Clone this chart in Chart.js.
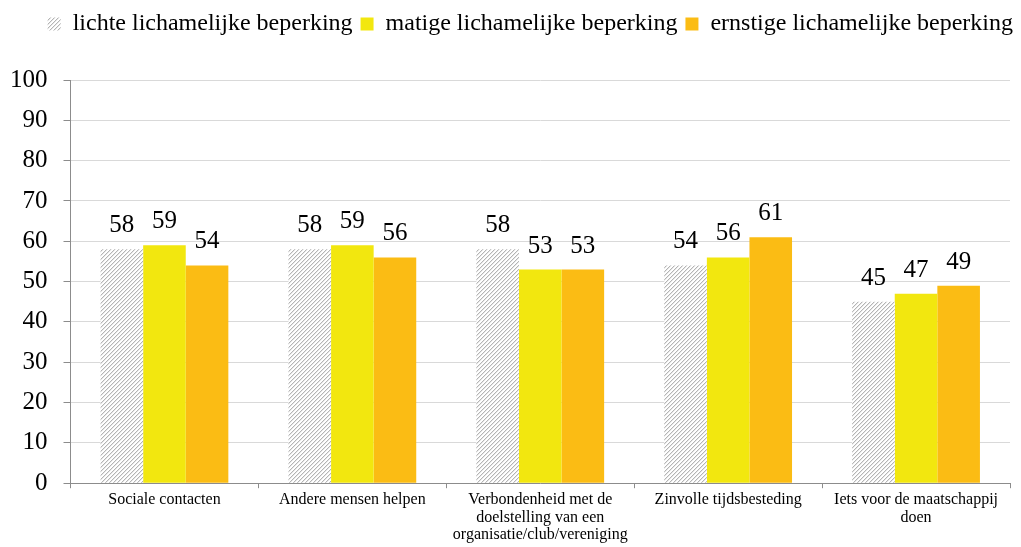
<!DOCTYPE html>
<html>
<head>
<meta charset="utf-8">
<script src="https://cdn.jsdelivr.net/npm/chart.js@4"></script>
<style>
  html, body { margin: 0; padding: 0; background: #fff; }
  #wrap { width: 1021px; height: 547px; }
</style>
</head>
<body>
<div id="wrap"><canvas id="chart" width="1021" height="547"></canvas></div>
<script>
// categories and values
const categories = [
    'Sociale contacten',
    'Andere mensen helpen',
    ['Verbondenheid met de', 'doelstelling van een', 'organisatie/club/vereniging'],
    'Zinvolle tijdsbesteding',
    ['Iets voor de maatschappij', 'doen']
];
const lichteValues = [58, 58, 58, 54, 45];
const matigeValues = [59, 59, 53, 56, 47];
const ernstigeValues = [54, 56, 53, 61, 49];
const seriesNames = ['lichte lichamelijke beperking', 'matige lichamelijke beperking', 'ernstige lichamelijke beperking'];
const yTicks = [0, 10, 20, 30, 40, 50, 60, 70, 80, 90, 100];

const serif = '"Liberation Serif", "Times New Roman", serif';

// gestreept patroon voor de eerste reeks
function makeHatch() {
    const c = document.createElement('canvas');
    c.width = 4; c.height = 4;
    const g = c.getContext('2d');
    g.fillStyle = '#ffffff';
    g.fillRect(0, 0, 4, 4);
    for (let i = 0; i < 4; i++) {
        g.fillStyle = '#b4b4b4';
        g.fillRect(i, 3 - i, 1, 1);
        g.fillStyle = '#e8e8e8';
        g.fillRect((i + 1) % 4, 3 - i, 1, 1);
    }
    return g.createPattern(c, 'repeat');
}
const hatch = makeHatch();

// waarden boven de staven
const valueLabels = {
    id: 'valueLabels',
    afterDatasetsDraw(chart) {
        const ctx = chart.ctx;
        ctx.save();
        ctx.font = '25px ' + serif;
        ctx.fillStyle = '#000';
        ctx.textAlign = 'center';
        ctx.textBaseline = 'alphabetic';
        chart.data.datasets.forEach((ds, i) => {
            chart.getDatasetMeta(i).data.forEach((bar, j) => {
                ctx.fillText(ds.data[j], bar.x, bar.y - 17);
            });
        });
        ctx.restore();
    }
};

// extra ruimte onder de legenda, en legenda iets naar rechts
const legendSpace = {
    id: 'legendSpace',
    beforeInit(chart) {
        const origFit = chart.legend.fit;
        chart.legend.fit = function () {
            origFit.bind(chart.legend)();
            this.height += 36;
        };
    },
    afterLayout(chart) {
        chart.legend.left += 11;
        chart.legend.right += 11;
        chart.legend.top += 2;
        chart.legend.bottom += 2;
    }
};

const ctx = document.getElementById('chart').getContext('2d');
new Chart(ctx, {
    type: 'bar',
    data: {
        labels: categories,
        datasets: [
            { label: seriesNames[0], data: lichteValues, backgroundColor: hatch, borderWidth: 0 },
            { label: seriesNames[1], data: matigeValues, backgroundColor: '#f2e70f', borderWidth: 0 },
            { label: seriesNames[2], data: ernstigeValues, backgroundColor: '#fbbc14', borderWidth: 0 }
        ]
    },
    options: {
        responsive: false,
        animation: false,
        layout: { padding: { left: -6, right: 11, top: 2, bottom: 0 } },
        datasets: { bar: { barPercentage: 1, categoryPercentage: 0.68 } },
        plugins: {
            tooltip: { enabled: false },
            legend: {
                position: 'top',
                align: 'end',
                labels: {
                    font: { family: serif, size: 24 },
                    color: '#000',
                    boxWidth: 13,
                    boxHeight: 13,
                    padding: 8
                }
            }
        },
        scales: {
            x: {
                grid: { display: true, drawOnChartArea: false, color: '#8c8c8c', tickLength: 5, offset: true },
                border: { color: '#8c8c8c' },
                ticks: {
                    color: '#000',
                    font: { family: serif, size: 16, lineHeight: 1.1 },
                    maxRotation: 0,
                    padding: 3
                }
            },
            y: {
                min: 0,
                max: 100,
                afterBuildTicks(axis) { axis.ticks = yTicks.map(v => ({ value: v })); },
                grid: { color: '#d9d9d9', tickColor: '#8c8c8c', tickLength: 7 },
                border: { color: '#8c8c8c' },
                ticks: {
                    color: '#000',
                    font: { family: serif, size: 25 },
                    padding: 16
                }
            }
        }
    },
    plugins: [valueLabels, legendSpace]
});
</script>
</body>
</html>
